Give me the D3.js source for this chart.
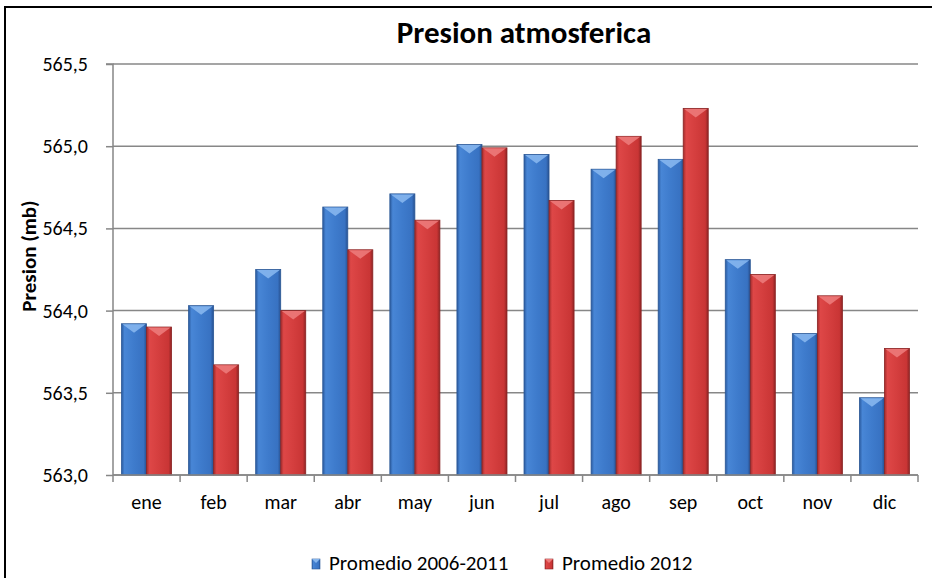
<!DOCTYPE html>
<html><head><meta charset="utf-8">
<script src="https://cdn.jsdelivr.net/npm/d3@7"></script>
<style>body{margin:0;background:#fff;} svg{display:block;}</style>
</head><body>
<script>
const months = ["ene","feb","mar","abr","may","jun","jul","ago","sep","oct","nov","dic"];
const seriesNames = ["Promedio 2006-2011","Promedio 2012"];
const prom0611 = [563.92,564.03,564.25,564.63,564.71,565.01,564.95,564.86,564.92,564.31,563.86,563.47];
const prom2012 = [563.90,563.67,564.00,564.37,564.55,564.99,564.67,565.06,565.23,564.22,564.09,563.77];
const yTicks = [563.0,563.5,564.0,564.5,565.0,565.5];
const title = "Presion atmosferica";
const yTitle = "Presion (mb)";

const W=932,H=578;
const svg=d3.select("body").append("svg").attr("width",W).attr("height",H);
const font="Carlito, Calibri, Lato, sans-serif";

const defs=svg.append("defs");
function grad(id, stops){
  const g=defs.append("linearGradient").attr("id",id).attr("x1","0").attr("x2","1").attr("y1","0").attr("y2","0");
  stops.forEach(s=>g.append("stop").attr("offset",s[0]).attr("stop-color",s[1]));
}
grad("gb",[["0%","#2a5a9e"],["12%","#4886d6"],["50%","#3e7bcc"],["88%","#3872c2"],["100%","#27508f"]]);
grad("gr",[["0%","#a22c2c"],["12%","#de4747"],["50%","#d43e3e"],["88%","#c93535"],["100%","#8e2424"]]);
const colors={fill:["url(#gb)","url(#gr)"],top:["#86b6ee","#ec7a7a"],stroke:["#2b5896","#8a2424"]};

// frame
svg.append("rect").attr("x",5).attr("y",7).attr("width",W+20).attr("height",H+20)
  .attr("fill","none").attr("stroke","#000").attr("stroke-width",2);

const m={l:113,r:918,t:64,b:475};
const x=d3.scaleBand().domain(months).range([m.l,m.r]).padding(0);
const xs=d3.scaleBand().domain(seriesNames).range([0,x.bandwidth()]).paddingInner(0).paddingOuter(0.34);
const y=d3.scaleLinear().domain([563,565.5]).range([m.b,m.t]);

// gridlines
svg.append("g").selectAll("line").data(yTicks).join("line")
  .attr("x1",m.l).attr("x2",m.r).attr("y1",d=>y(d)).attr("y2",d=>y(d))
  .attr("stroke","#878787").attr("stroke-width",1.5);

// y axis
const ya=svg.append("g").attr("transform",`translate(${m.l},0)`)
  .call(d3.axisLeft(y).tickValues(yTicks).tickSize(7).tickPadding(18).tickFormat(d=>d3.format(".1f")(d).replace(".",",")));
ya.select(".domain").attr("stroke","#878787").attr("stroke-width",1.5).attr("d",`M-7,${m.t}H0V${m.b}`);
ya.selectAll(".tick line").attr("stroke","#878787").attr("stroke-width",1.5);
ya.selectAll("text").attr("font-family",font).attr("font-size",20).attr("fill","#000");

// x axis
const xa=svg.append("g").attr("transform",`translate(0,${m.b})`)
  .call(d3.axisBottom(x).tickSize(0).tickPadding(0));
xa.select(".domain").remove();
xa.selectAll("text").attr("dy",null).attr("y",34).attr("font-family",font).attr("font-size",20).attr("fill","#000");
svg.append("g").selectAll("line").data(months.concat(["_end"])).join("line")
  .attr("x1",(d,i)=>m.l+i*x.step()).attr("x2",(d,i)=>m.l+i*x.step())
  .attr("y1",m.b).attr("y2",m.b+7).attr("stroke","#878787").attr("stroke-width",1.5);

// bars
const data=months.map((mo,i)=>({mo,vals:[prom0611[i],prom2012[i]]}));
const gB=svg.append("g");
data.forEach(d=>{
  d.vals.forEach((v,si)=>{
    const bx=x(d.mo)+xs(seriesNames[si]), bw=xs.bandwidth(), by=y(v), bh=y(563)-y(v);
    gB.append("rect").attr("x",bx).attr("y",by).attr("width",bw).attr("height",bh)
      .attr("fill",colors.fill[si]).attr("stroke",colors.stroke[si]).attr("stroke-width",0.8);
    gB.append("path").attr("d",`M${bx+1},${by+0.5}L${bx+bw-1},${by+0.5}L${bx+bw/2},${by+9}Z`)
      .attr("fill",colors.top[si]).attr("opacity",0.9);
  });
});
svg.append("line").attr("x1",m.l).attr("x2",m.r).attr("y1",m.b).attr("y2",m.b).attr("stroke","#878787").attr("stroke-width",1.5);

// title
svg.append("text").attr("x",524).attr("y",43).attr("text-anchor","middle")
  .attr("font-family",font).attr("font-weight","bold").attr("font-size",31).text(title);
svg.append("text").attr("transform",`translate(36,256) rotate(-90)`).attr("text-anchor","middle")
  .attr("font-family",font).attr("font-weight","bold").attr("font-size",21).text(yTitle);

// legend
const legX=[312,545];
seriesNames.forEach((s,i)=>{
  svg.append("rect").attr("x",legX[i]).attr("y",559).attr("width",8).attr("height",10)
    .attr("fill",colors.fill[i]).attr("stroke",colors.stroke[i]).attr("stroke-width",0.6);
  svg.append("path").attr("d",`M${legX[i]},559L${legX[i]+8},559L${legX[i]+4},563Z`).attr("fill",colors.top[i]);
  svg.append("text").attr("x",legX[i]+17).attr("y",570).attr("font-family",font).attr("font-size",21).text(s);
});
</script>
</body></html>
